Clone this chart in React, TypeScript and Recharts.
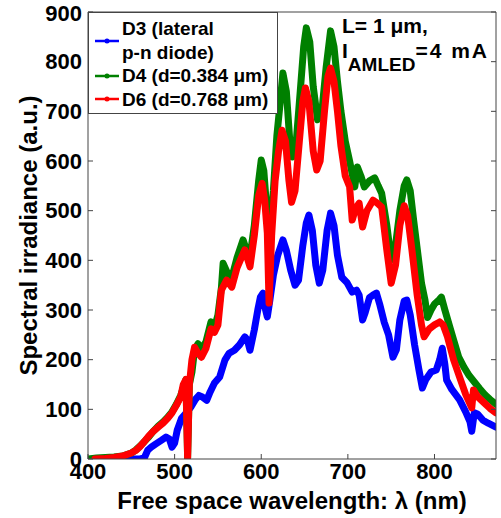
import { LineChart, Line, XAxis, YAxis } from 'recharts';

const xTicks = [400, 500, 600, 700, 800];
const yTicks = [0, 100, 200, 300, 400, 500, 600, 700, 800, 900];

// D3 (lateral p-n diode)
const d3Wl = [420, 430, 440, 450, 460, 465, 469, 473, 478, 485, 490, 494, 497, 500, 503, 508, 513, 519, 524, 528, 532, 537, 541, 546, 552, 558, 563, 569, 575, 581, 584, 587, 592, 596, 599, 602, 605, 607, 610, 614, 619, 625, 629, 634, 639, 643, 648, 652, 655, 659, 663, 667, 671, 676, 680, 684, 688, 693, 699, 705, 710, 713, 717, 720, 725, 729, 733, 737, 742, 747, 752, 756, 760, 765, 768, 772, 777, 782, 786, 790, 796, 802, 806, 809, 812, 814, 820, 829, 836, 841, 843, 846, 850, 856, 862, 871];
const d3Val = [0, 0, 0, 0, 0, 2, 18, 24, 30, 38, 44, 40, 24, 32, 58, 82, 92, 105, 120, 128, 125, 118, 135, 153, 165, 199, 213, 219, 230, 246, 240, 219, 260, 300, 326, 334, 300, 286, 320, 370, 410, 441, 420, 380, 350, 360, 430, 475, 491, 460, 390, 354, 380, 460, 495, 470, 410, 366, 355, 336, 340, 330, 280, 295, 325, 330, 334, 310, 275, 250, 205, 220, 280, 318, 320, 290, 230, 180, 143, 160, 175, 179, 200, 223, 190, 159, 140, 119, 95, 75, 56, 93, 90, 78, 72, 64];

// D4 (d=0.384 um)
const d4Wl = [400, 410, 420, 430, 440, 450, 455, 460, 465, 470, 475, 481, 487, 492, 497, 502, 507, 511, 513, 515, 517, 520, 523, 527, 531, 536, 542, 546, 550, 554, 556, 561, 566, 572, 579, 583, 587, 592, 597, 600, 603, 607, 610, 614, 618, 621, 625, 629, 633, 636, 640, 645, 649, 652, 656, 660, 665, 670, 675, 680, 684, 688, 692, 697, 702, 706, 708, 711, 715, 719, 725, 731, 735, 739, 745, 750, 755, 760, 765, 768, 772, 776, 781, 785, 789, 792, 796, 800, 805, 808, 812, 817, 822, 828, 834, 840, 846, 852, 858, 864, 871];
const d4Val = [0, 2, 3, 4, 6, 12, 18, 26, 35, 44, 55, 66, 75, 84, 95, 110, 128, 148, 160, 2, 150, 175, 220, 232, 222, 235, 276, 265, 290, 345, 394, 374, 365, 405, 441, 420, 407, 470, 560, 602, 580, 487, 461, 540, 650, 703, 777, 740, 640, 608, 630, 740, 830, 868, 840, 750, 683, 700, 790, 862, 830, 760, 700, 640, 600, 565, 548, 588, 570, 548, 560, 566, 550, 535, 470, 401, 430, 500, 550, 562, 540, 480, 410, 354, 320, 285, 300, 312, 320, 326, 300, 270, 240, 205, 185, 168, 155, 142, 130, 120, 110];

// D6 (d=0.768 um)
const d6Wl = [408, 420, 430, 440, 450, 455, 460, 465, 470, 475, 481, 487, 492, 497, 502, 507, 510, 513, 515, 517, 520, 523, 527, 531, 536, 542, 546, 550, 554, 560, 566, 572, 581, 587, 592, 597, 601, 604, 607, 609, 612, 616, 620, 624, 628, 632, 635, 639, 644, 648, 651, 655, 660, 664, 668, 673, 677, 680, 684, 688, 692, 697, 702, 705, 709, 713, 717, 722, 729, 734, 739, 745, 750, 755, 760, 765, 769, 774, 780, 785, 788, 794, 800, 806, 810, 815, 822, 829, 836, 843, 845, 850, 858, 864, 871];
const d6Val = [0, 1, 3, 6, 12, 17, 25, 35, 46, 55, 64, 73, 82, 93, 108, 125, 150, 160, 3, 150, 200, 225, 213, 205, 222, 262, 255, 270, 340, 360, 346, 385, 421, 387, 450, 530, 555, 520, 455, 314, 450, 560, 620, 662, 640, 560, 517, 540, 640, 720, 747, 720, 620, 582, 600, 700, 770, 787, 760, 700, 630, 570, 548, 481, 505, 515, 467, 500, 521, 515, 507, 420, 354, 390, 470, 510, 490, 420, 330, 270, 246, 262, 270, 276, 270, 246, 200, 165, 130, 103, 139, 125, 112, 102, 93];

const series = [
    { name: 'D3', wl: d3Wl, val: d3Val, color: '#0000ff' },
    { name: 'D4', wl: d4Wl, val: d4Val, color: '#008000' },
    { name: 'D6', wl: d6Wl, val: d6Val, color: '#ff0000' },
];
const legendLabels = [['D3 (lateral', 'p-n diode)'], ['D4 (d=0.384 \u03bcm)'], ['D6 (d=0.768 \u03bcm)']];

const FONT = '"Liberation Sans", Arial, sans-serif';
const AXIS = '#444444';

const tickStyle = { fill: '#000', fontSize: 22, fontWeight: 'bold', fontFamily: FONT };

function toPoints(wl: number[], val: number[]) {
    return wl.map((w, i) => ({ wl: w, v: val[i] }));
}

function Marker({ color }: { color: string }) {
    return (
        <svg width={26} height={10} style={{ flex: 'none' }}>
            <line x1={1} y1={5} x2={25} y2={5} stroke={color} strokeWidth={2.5} />
            <circle cx={13} cy={5} r={2.5} fill={color} />
        </svg>
    );
}

function LegendBox() {
    return (
        <div style={{
            position: 'absolute', left: 88, top: 12, width: 190, height: 102, boxSizing: 'border-box',
            border: `1px solid ${AXIS}`, background: '#fff', fontFamily: FONT, fontWeight: 'bold',
            fontSize: 19, lineHeight: '23.5px', padding: '4px 0 0 5px'
        }}>
            {series.map((s, i) => (
                <div key={s.name} style={{ display: 'flex', alignItems: 'center', gap: 2 }}>
                    <Marker color={s.color} />
                    <div>
                        {legendLabels[i].map((t) => <div key={t} style={{ whiteSpace: 'nowrap' }}>{t}</div>)}
                    </div>
                </div>
            ))}
        </div>
    );
}

function Note() {
    return (
        <div style={{
            position: 'absolute', left: 342, top: 13, fontFamily: FONT, fontWeight: 'bold', fontSize: 21,
            lineHeight: '25px', color: '#000', whiteSpace: 'nowrap'
        }}>
            <div>L= 1 {'\u03bc'}m,</div>
            <div>
                I<span style={{ fontSize: 19, position: 'relative', top: 13 }}>AMLED</span>
                <span style={{ letterSpacing: 2 }}>=4 mA</span>
            </div>
        </div>
    );
}

export default function App() {
    return (
        <div style={{ position: 'absolute', left: 0, top: 0, width: 501, height: 518, background: '#fff' }}>
            <LineChart width={501} height={518} margin={{ top: 11, right: 0, bottom: 0, left: 0 }}>
                <XAxis
                    dataKey="wl"
                    type="number"
                    domain={[400, 871]}
                    allowDataOverflow
                    ticks={xTicks}
                    height={59}
                    tickSize={-5}
                    tickMargin={9}
                    tick={tickStyle}
                    stroke={AXIS}
                    label={{ value: 'Free space wavelength: \u03bb (nm)', position: 'insideBottom', offset: 9, fill: '#000', fontSize: 24, fontWeight: 'bold', fontFamily: FONT }}
                />
                <XAxis
                    xAxisId="top"
                    orientation="top"
                    type="number"
                    domain={[400, 871]}
                    allowDataOverflow
                    ticks={xTicks}
                    height={1}
                    tickSize={-5}
                    tickFormatter={() => ''}
                    stroke={AXIS}
                />
                <YAxis
                    type="number"
                    domain={[0, 900]}
                    allowDataOverflow
                    ticks={yTicks}
                    width={88}
                    tickSize={-5}
                    tickMargin={11}
                    tick={tickStyle}
                    stroke={AXIS}
                    label={{ value: 'Spectral irradiance (a.u.)', angle: -90, position: 'center', dx: -16, fill: '#000', fontSize: 24, fontWeight: 'bold', fontFamily: FONT }}
                />
                <YAxis
                    yAxisId="right"
                    orientation="right"
                    type="number"
                    domain={[0, 900]}
                    allowDataOverflow
                    ticks={yTicks}
                    width={5}
                    tickSize={-5}
                    tickFormatter={() => ''}
                    stroke={AXIS}
                />
                {series.map((s) => (
                    <Line
                        key={s.name}
                        data={toPoints(s.wl, s.val)}
                        dataKey="v"
                        name={s.name}
                        type="linear"
                        stroke={s.color}
                        strokeWidth={7}
                        strokeLinejoin="round"
                        strokeLinecap="round"
                        dot={false}
                        isAnimationActive={false}
                    />
                ))}
            </LineChart>
            <LegendBox />
            <Note />
        </div>
    );
}
